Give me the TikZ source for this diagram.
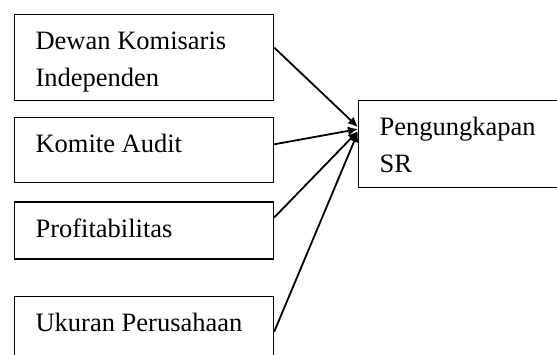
\documentclass[tikz,border=0pt]{standalone}
\usepackage{fontspec}
\setmainfont{Liberation Serif}
\usetikzlibrary{arrows.meta, positioning, calc}
\tikzset{
    block/.style={rectangle, draw=black, line width=1.2pt, anchor=north west,
        inner xsep=21pt, inner ysep=0pt, text width=217pt, align=flush left,
        font=\fontsize{26.5}{37}\selectfont},
    arrow/.style={-{Latex[length=10pt, width=9pt]}, line width=1.8pt}
}
\newcommand{\padtop}{\rule{0pt}{35pt}}
\newcommand{\padbot}[1]{\rule[-#1]{0pt}{#1}}

\begin{document}
\begin{tikzpicture}[x=1pt, y=-1pt]

    \useasboundingbox (0,0) rectangle (557,354);
    \clip (0,0) rectangle (557,354);

    \node[block] (dki) at (14,14) {\padtop Dewan Komisaris\\Independen\padbot{14pt}};
    \node[block, below=16pt of dki] (audit) {\padtop Komite Audit\padbot{30pt}};
    \node[block, below=18pt of audit] (profit) {\padtop Profitabilitas\padbot{22pt}};
    \node[block, below=36pt of profit] (ukuran) {\padtop Ukuran Perusahaan\padbot{36pt}};

    \node[block] (sr) at (358,100) {\padtop Pengungkapan\\SR\padbot{15pt}};

    \coordinate (tip) at ($(sr.north west)!0.33!(sr.south west)$);

    \draw[arrow] ([yshift=10pt]dki.east) -- ([yshift=2pt]tip);
    \draw[arrow] ([yshift=6pt]audit.east) -- (tip);
    \draw[arrow] ([yshift=13pt]profit.east) -- ([yshift=-2pt]tip);
    \draw[arrow] (ukuran.east) -- ([yshift=-3pt]tip);

\end{tikzpicture}
\end{document}
